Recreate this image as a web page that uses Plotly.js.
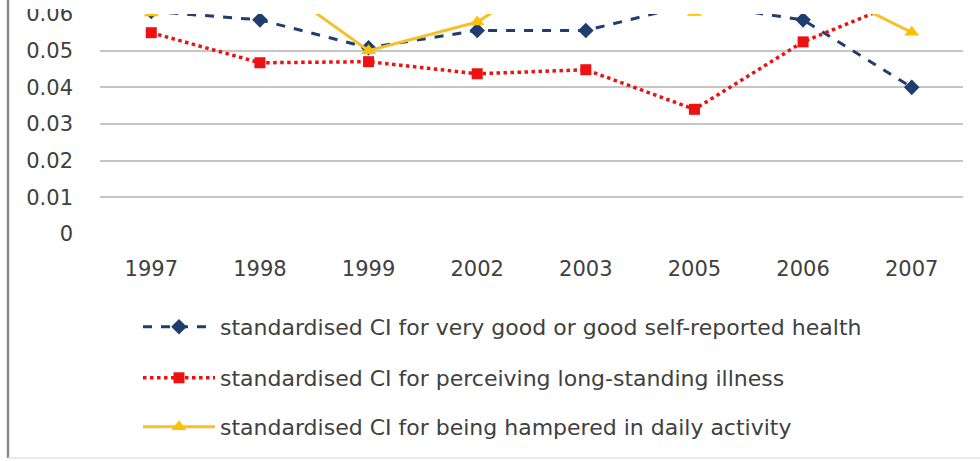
<!DOCTYPE html>
<html>
<head>
<meta charset="utf-8">
<script src="https://cdn.plot.ly/plotly-3.0.1.min.js"></script>
<style>
  html, body { margin: 0; padding: 0; background: #fff; overflow: hidden; }
  #chart { width: 980px; height: 461px; }
</style>
</head>
<body>
<div id="chart"></div>
<script>
const years = ['1997', '1998', '1999', '2002', '2003', '2005', '2006', '2007'];
const goodHealth = [0.0607, 0.0584, 0.0508, 0.0555, 0.0555, 0.0628, 0.0584, 0.0400];
const longIllness = [0.0549, 0.0467, 0.0470, 0.0437, 0.0448, 0.0340, 0.0524, 0.0645];
const hampered = [0.0603, 0.0712, 0.0500, 0.0578, 0.0766, 0.0604, 0.0696, 0.0550];
const seriesNames = [
  'standardised CI for very good or good self-reported health',
  'standardised CI for perceiving long-standing illness',
  'standardised CI for being hampered in daily activity'
];
const yTicks = [0, 0.01, 0.02, 0.03, 0.04, 0.05, 0.06];

const FONT = 'DejaVu Sans, sans-serif';
const TXT = '#404040';

const traces = [
  {
    x: years, y: goodHealth, name: seriesNames[0], type: 'scatter', mode: 'lines+markers',
    line: { color: '#1F3D6E', width: 3, dash: 'dash' },
    marker: { symbol: 'diamond', size: 12, color: '#1F3D6E' },
    legend: 'legend'
  },
  {
    x: years, y: longIllness, name: seriesNames[1], type: 'scatter', mode: 'lines+markers',
    line: { color: '#EE1111', width: 3.5, dash: 'dot' },
    marker: { symbol: 'square', size: 11, color: '#EE1111' },
    legend: 'legend2'
  },
  {
    x: years, y: hampered, name: seriesNames[2], type: 'scatter', mode: 'lines+markers',
    line: { color: '#F5C02A', width: 3 },
    marker: { symbol: 'triangle-up', size: 13, color: '#FFC000' },
    legend: 'legend3'
  }
];

const plotTop = 14, plotBottom = 234, plotH = plotBottom - plotTop;
const py = p => (plotBottom - p) / plotH;
const plotLeft = 100, plotRight = 963, plotW = plotRight - plotLeft;
const px = p => (p - plotLeft) / plotW;

const legendBase = {
  orientation: 'v', xanchor: 'left', yanchor: 'middle',
  font: { family: FONT, size: 22, color: TXT },
  bgcolor: 'rgba(0,0,0,0)', itemwidth: 72, itemclick: false, itemdoubleclick: false
};

const layout = {
  width: 980, height: 461,
  margin: { l: plotLeft, r: 980 - plotRight, t: plotTop, b: 461 - plotBottom },
  paper_bgcolor: '#ffffff', plot_bgcolor: '#ffffff',
  font: { family: FONT, size: 21, color: TXT },
  xaxis: {
    type: 'category', categoryarray: years, categoryorder: 'array',
    showgrid: false, zeroline: false, showline: false, ticks: '',
    ticklabelstandoff: 20,
    tickfont: { family: FONT, size: 21, color: TXT }
  },
  yaxis: {
    range: [0, 0.06], tickvals: yTicks, ticktext: yTicks.map(v => String(v)),
    showgrid: true, gridcolor: '#c6c6c6', gridwidth: 2,
    zeroline: false, showline: false, ticks: '',
    ticklabelstandoff: 26,
    tickfont: { family: FONT, size: 21, color: TXT }
  },
  showlegend: true,
  legend: Object.assign({}, legendBase, { x: px(138), y: py(327) }),
  legend2: Object.assign({}, legendBase, { x: px(138), y: py(378) }),
  legend3: Object.assign({}, legendBase, { x: px(138), y: py(427) }),
  shapes: [
    { type: 'rect', xref: 'paper', yref: 'paper', x0: px(10), x1: px(90), y0: py(9), y1: py(-10),
      fillcolor: '#ffffff', line: { width: 0 }, layer: 'above' },
    { type: 'line', xref: 'paper', yref: 'paper', x0: px(8), x1: px(8), y0: py(-5), y1: py(458),
      line: { color: '#8a8a8a', width: 2.5 }, layer: 'above' },
    { type: 'line', xref: 'paper', yref: 'paper', x0: px(8), x1: px(985), y0: py(458), y1: py(458),
      line: { color: '#e2e2e2', width: 1.5 }, layer: 'above' }
  ]
};

Plotly.newPlot('chart', traces, layout, { displayModeBar: false, staticPlot: true });
</script>
</body>
</html>
